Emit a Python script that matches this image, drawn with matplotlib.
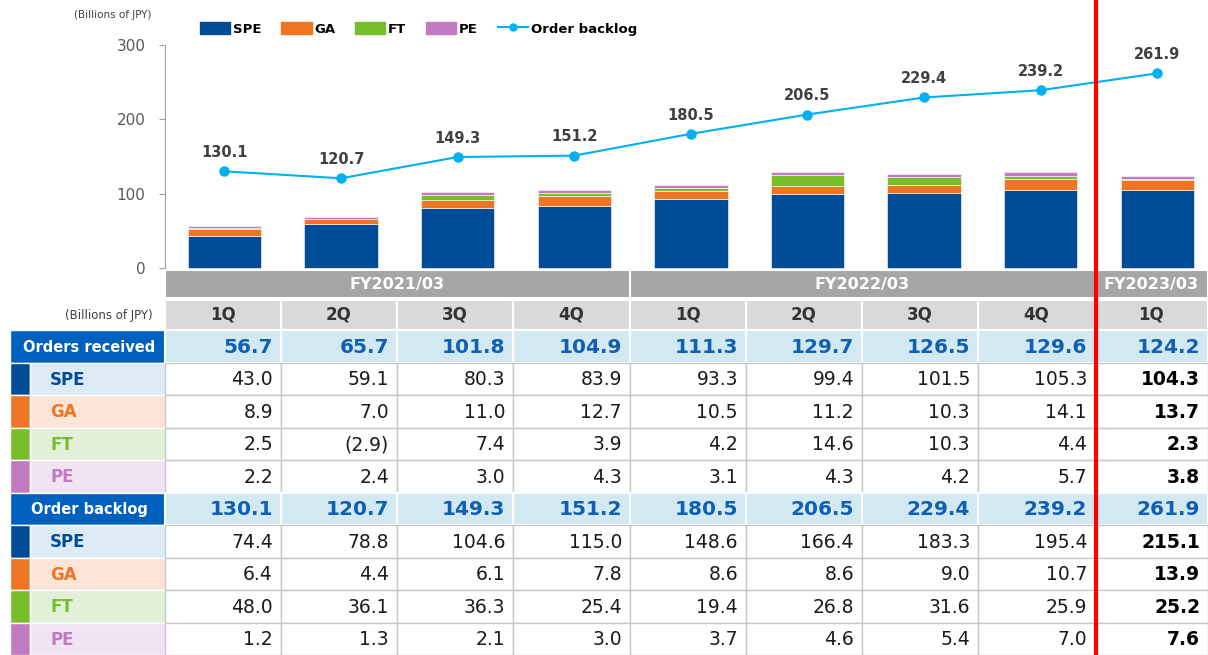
import matplotlib
matplotlib.use("Agg")
import matplotlib.pyplot as plt
from matplotlib.patches import Rectangle
from matplotlib.lines import Line2D

plt.rcParams['font.family'] = ['DejaVu Sans']

# dati (miliardi di JPY)
fy_groups = ["FY2021/03", "FY2022/03", "FY2023/03"]
fy_span = [4, 4, 1]
quarters = ["1Q", "2Q", "3Q", "4Q", "1Q", "2Q", "3Q", "4Q", "1Q"]
segments = ["SPE", "GA", "FT", "PE"]

orders_total = [56.7, 65.7, 101.8, 104.9, 111.3, 129.7, 126.5, 129.6, 124.2]
orders_spe = [43.0, 59.1, 80.3, 83.9, 93.3, 99.4, 101.5, 105.3, 104.3]
orders_ga = [8.9, 7.0, 11.0, 12.7, 10.5, 11.2, 10.3, 14.1, 13.7]
orders_ft = [2.5, -2.9, 7.4, 3.9, 4.2, 14.6, 10.3, 4.4, 2.3]
orders_pe = [2.2, 2.4, 3.0, 4.3, 3.1, 4.3, 4.2, 5.7, 3.8]

backlog_total = [130.1, 120.7, 149.3, 151.2, 180.5, 206.5, 229.4, 239.2, 261.9]
backlog_spe = [74.4, 78.8, 104.6, 115.0, 148.6, 166.4, 183.3, 195.4, 215.1]
backlog_ga = [6.4, 4.4, 6.1, 7.8, 8.6, 8.6, 9.0, 10.7, 13.9]
backlog_ft = [48.0, 36.1, 36.3, 25.4, 19.4, 26.8, 31.6, 25.9, 25.2]
backlog_pe = [1.2, 1.3, 2.1, 3.0, 3.7, 4.6, 5.4, 7.0, 7.6]

yticks = [0, 100, 200, 300]

# colori
seg_colors = ["#004C97", "#EE7623", "#78BE2A", "#C27BC0"]
seg_bg = ["#DDEBF7", "#FCE4D6", "#E2F0D9", "#F0E4F3"]
line_color = "#00B0F0"
blue_hdr = "#0060BE"
blue_txt = "#0F5FB4"
total_bg = "#D2E9F1"

W, H = 1208, 655
fig = plt.figure(figsize=(W / 100, H / 100), dpi=100)

# --- grafico ---
ax = fig.add_axes([165 / W, (H - 268) / H, (W - 165) / W, (268 - 45) / H])
ax.patch.set_alpha(0)
xs = list(range(len(quarters)))
series = [orders_spe, orders_ga, orders_ft, orders_pe]
pos_bottom = [0.0] * len(xs)
neg_bottom = [0.0] * len(xs)
for vals, col in zip(series, seg_colors):
    bottoms = []
    for i, v in enumerate(vals):
        if v >= 0:
            bottoms.append(pos_bottom[i])
            pos_bottom[i] += v
        else:
            bottoms.append(neg_bottom[i])
            neg_bottom[i] += v
    ax.bar(xs, vals, bottom=bottoms, width=0.63, color=col,
           edgecolor="white", linewidth=0.4, clip_on=False, zorder=2)

ax.plot(xs, backlog_total, color=line_color, lw=1.5, marker="o",
        markersize=6.5, zorder=3)
for x, v in zip(xs, backlog_total):
    ax.annotate(f"{v:.1f}", (x, v), xytext=(0, 8), textcoords="offset points",
                ha="center", va="bottom", fontsize=10.5, fontweight="bold",
                color="#404040")

ax.set_xlim(-0.51, 8.435)
ax.set_ylim(0, 300)
ax.set_yticks(yticks)
ax.set_xticks([])
for s in ["top", "right", "bottom"]:
    ax.spines[s].set_visible(False)
ax.spines["left"].set_color("#A0A0A0")
ax.tick_params(axis="y", length=4, color="#A0A0A0", labelsize=11,
               labelcolor="#595959", pad=10)

fig.text(152 / W, 1 - 15 / H, "(Billions of JPY)", ha="right", va="center",
         fontsize=7.5, color="#404040")

handles = [Rectangle((0, 0), 1, 1, color=c) for c in seg_colors]
handles.append(Line2D([0], [0], color=line_color, lw=1.5, marker="o",
                      markersize=5))
leg = fig.legend(handles, segments + ["Order backlog"], loc="center left",
                 bbox_to_anchor=(188 / W, 1 - 29 / H), ncol=5, frameon=False,
                 handlelength=2.3, handleheight=1.0, handletextpad=0.2,
                 columnspacing=1.5, prop={"weight": "bold", "size": 9.5})

# --- tabella ---
tab = fig.add_axes([0, 0, 1, 1])
tab.set_xlim(0, W)
tab.set_ylim(H, 0)
tab.axis("off")

col_edges = [165, 281, 397, 513, 630, 746, 862, 978, 1095, 1208]


def cell(x0, y0, x1, y1, fc, ec="none", lw=0):
    tab.add_patch(Rectangle((x0, y0), x1 - x0, y1 - y0, facecolor=fc,
                            edgecolor=ec, linewidth=lw))


# riga FY
k = 0
for name, span in zip(fy_groups, fy_span):
    x0, x1 = col_edges[k], col_edges[k + span]
    cell(x0, 270, x1, 298, "#A6A6A6", "white", 1.5)
    tab.text((x0 + x1) / 2, 284, name, ha="center", va="center",
             fontsize=11.5, fontweight="bold", color="white")
    k += span

# riga trimestri
for i, q in enumerate(quarters):
    x0, x1 = col_edges[i], col_edges[i + 1]
    cell(x0, 299.5, x1, 329.5, "#D9D9D9", "white", 1.5)
    tab.text((x0 + x1) / 2, 315, q, ha="center", va="center",
             fontsize=12, fontweight="bold", color="#333333")
tab.text(153, 316, "(Billions of JPY)", ha="right", va="center",
         fontsize=8.5, color="#404040")

row_h = 32.5
blocks = [("Orders received", orders_total,
           [orders_spe, orders_ga, orders_ft, orders_pe]),
          ("Order backlog", backlog_total,
           [backlog_spe, backlog_ga, backlog_ft, backlog_pe])]


def fmt(v):
    return f"({abs(v):.1f})" if v < 0 else f"{v:.1f}"


y = 330
for title, tot, subs in blocks:
    cell(10, y, 165, y + row_h, blue_hdr, "white", 1)
    tab.text(89, y + row_h / 2 + 1, title, ha="center", va="center",
             fontsize=10.5, fontweight="bold", color="white")
    for i, v in enumerate(tot):
        x0, x1 = col_edges[i], col_edges[i + 1]
        cell(x0, y, x1, y + row_h, total_bg, "white", 1.5)
        tab.text(x1 - 8, y + row_h / 2 + 1, fmt(v), ha="right", va="center",
                 fontsize=14.5, fontweight="bold", color=blue_txt)
    y += row_h
    for name, vals, col, bg in zip(segments, subs, seg_colors, seg_bg):
        cell(10, y, 30, y + row_h, col, "white", 1)
        cell(30, y, 165, y + row_h, bg, "white", 1)
        tab.text(50, y + row_h / 2 + 1, name, ha="left", va="center",
                 fontsize=12, fontweight="bold", color=col)
        for i, v in enumerate(vals):
            x0, x1 = col_edges[i], col_edges[i + 1]
            cell(x0, y, x1, y + row_h, "white", "#C8C8C8", 1)
            last = i == len(vals) - 1
            tab.text(x1 - 8, y + row_h / 2 + 1, fmt(v), ha="right",
                     va="center", fontsize=13.5,
                     fontweight="bold" if last else "normal",
                     color="black" if last else "#1A1A1A")
        y += row_h

# linea rossa
tab.plot([1096, 1096], [0, H], color="#FF0000", lw=3, solid_capstyle="butt")

fig.savefig("out.png", dpi=100)
